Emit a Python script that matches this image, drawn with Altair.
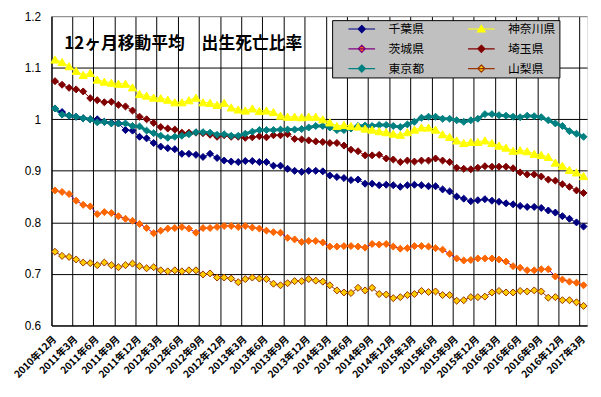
import altair as alt
import pandas as pd

# month labels (2010年12月 .. 2017年3月)
months = []
for yy in range(2010, 2018):
    for mm in range(1, 13):
        if (yy == 2010 and mm < 12) or (yy == 2017 and mm > 3):
            continue
        months.append(f"{yy}年{mm}月")
tick_months = months[::3]

series_names = ["千葉県", "神奈川県", "茨城県", "埼玉県", "東京都", "山梨県"]

chiba = [1.021, 1.014, 1.007, 1.005, 1.002, 1.000, 1.000, 0.995, 0.993, 0.992,
         0.979, 0.978, 0.966, 0.963, 0.954, 0.947, 0.944, 0.942, 0.933, 0.933,
         0.931, 0.927, 0.933, 0.925, 0.920, 0.918, 0.917, 0.919, 0.919, 0.917,
         0.917, 0.910, 0.910, 0.904, 0.900, 0.898,
         0.900, 0.900, 0.899, 0.891, 0.888, 0.886, 0.882, 0.883, 0.875, 0.875,
         0.872, 0.873, 0.872, 0.869, 0.872, 0.873, 0.872, 0.870, 0.870, 0.864,
         0.860, 0.850, 0.846, 0.841, 0.843, 0.845, 0.842, 0.840, 0.837, 0.835,
         0.832, 0.830, 0.830, 0.828, 0.823, 0.819, 0.812, 0.807, 0.800, 0.792]
kanagawa = [1.116, 1.111, 1.103, 1.094, 1.086, 1.090, 1.077, 1.073, 1.071, 1.069,
            1.069, 1.062, 1.049, 1.046, 1.042, 1.041, 1.038, 1.033, 1.033, 1.037,
            1.042, 1.033, 1.032, 1.028, 1.032, 1.023, 1.019, 1.017, 1.021, 1.016,
            1.017, 1.014, 1.007, 1.005, 1.005, 1.004,
            1.005, 1.005, 1.000, 0.994, 0.987, 0.989, 0.987, 0.986, 0.982, 0.980,
            0.977, 0.975, 0.972, 0.970, 0.975, 0.980, 0.984, 0.984, 0.980, 0.971,
            0.966, 0.959, 0.954, 0.956, 0.956, 0.959, 0.954, 0.949, 0.945, 0.939,
            0.940, 0.938, 0.933, 0.931, 0.927, 0.916, 0.910, 0.902, 0.897, 0.890]
ibaraki = [0.862, 0.859, 0.855, 0.842, 0.834, 0.831, 0.816, 0.820, 0.818, 0.812,
           0.807, 0.803, 0.797, 0.789, 0.779, 0.784, 0.788, 0.789, 0.791, 0.788,
           0.780, 0.789, 0.789, 0.791, 0.793, 0.793, 0.791, 0.793, 0.790, 0.788,
           0.784, 0.781, 0.780, 0.770, 0.767, 0.762,
           0.764, 0.764, 0.761, 0.753, 0.753, 0.754, 0.754, 0.753, 0.751, 0.758,
           0.757, 0.758, 0.753, 0.749, 0.750, 0.754, 0.754, 0.753, 0.750, 0.747,
           0.739, 0.730, 0.726, 0.727, 0.730, 0.730, 0.730, 0.728, 0.724, 0.715,
           0.712, 0.707, 0.707, 0.709, 0.709, 0.695, 0.689, 0.685, 0.683, 0.678]
saitama = [1.074, 1.067, 1.061, 1.058, 1.054, 1.041, 1.037, 1.033, 1.034, 1.028,
           1.025, 1.017, 1.005, 1.000, 0.993, 0.985, 0.982, 0.980, 0.974, 0.974,
           0.974, 0.973, 0.970, 0.966, 0.969, 0.966, 0.966, 0.964, 0.965, 0.967,
           0.965, 0.969, 0.969, 0.971, 0.962, 0.961,
           0.959, 0.957, 0.956, 0.954, 0.954, 0.949, 0.941, 0.938, 0.930, 0.930,
           0.931, 0.924, 0.922, 0.917, 0.920, 0.918, 0.920, 0.920, 0.924, 0.920,
           0.917, 0.906, 0.904, 0.903, 0.906, 0.909, 0.908, 0.908, 0.908, 0.905,
           0.897, 0.893, 0.893, 0.889, 0.883, 0.881, 0.874, 0.869, 0.862, 0.857]
tokyo = [1.021, 1.009, 1.007, 1.005, 1.002, 1.000, 0.994, 0.995, 0.992, 0.992,
         0.992, 0.987, 0.986, 0.978, 0.973, 0.968, 0.964, 0.966, 0.968, 0.971,
         0.975, 0.975, 0.974, 0.970, 0.971, 0.968, 0.968, 0.972, 0.976, 0.979,
         0.979, 0.979, 0.980, 0.980, 0.980, 0.981,
         0.984, 0.987, 0.987, 0.984, 0.979, 0.979, 0.982, 0.987, 0.988, 0.987,
         0.989, 0.989, 0.987, 0.985, 0.990, 0.995, 1.003, 1.005, 1.005, 1.001,
         1.001, 0.998, 0.995, 0.998, 1.001, 1.010, 1.010, 1.008, 1.007, 1.005,
         1.004, 1.007, 1.006, 1.004, 0.998, 0.992, 0.987, 0.977, 0.972, 0.966]
yamanashi = [0.743, 0.735, 0.733, 0.728, 0.722, 0.721, 0.717, 0.722, 0.717, 0.713,
             0.717, 0.720, 0.715, 0.711, 0.713, 0.707, 0.705, 0.707, 0.705, 0.707,
             0.707, 0.699, 0.701, 0.693, 0.693, 0.691, 0.684, 0.690, 0.693, 0.691,
             0.690, 0.681, 0.678, 0.682, 0.686, 0.686,
             0.690, 0.687, 0.685, 0.678, 0.668, 0.664, 0.663, 0.673, 0.668, 0.673,
             0.661, 0.660, 0.653, 0.655, 0.659, 0.661, 0.667, 0.665, 0.666, 0.659,
             0.659, 0.648, 0.649, 0.655, 0.655, 0.656, 0.664, 0.667, 0.664, 0.664,
             0.667, 0.666, 0.668, 0.666, 0.654, 0.655, 0.649, 0.649, 0.645, 0.638]

y_ticks = [0.6, 0.7, 0.8, 0.9, 1.0, 1.1, 1.2]

line_colors = ["#000080", "#FFFF00", "#800080", "#800000", "#008080", "#993300"]
marker_fill = ["#000080", "#FFFF00", "#FF6600", "#800000", "#008080", "#FFCC00"]
marker_stroke = ["#000080", "#FFFF00", "#FF6600", "#800000", "#008080", "#993300"]

diamond = "M-2.7,0H2.7M0,-0.72L0.72,0L0,0.72L-0.72,0Z"
triangle = "M-2.7,0H2.7M0,-0.75L0.8,0.6L-0.8,0.6Z"
legend_shapes = [diamond, triangle, diamond, diamond, diamond, diamond]

title_text = "12ヶ月移動平均　出生死亡比率"

rows = []
for name, vals in zip(series_names, [chiba, kanagawa, ibaraki, saitama, tokyo, yamanashi]):
    for i, (m, v) in enumerate(zip(months, vals)):
        rows.append({"month": m, "series": name, "value": v, "idx": i})
df = pd.DataFrame(rows)

FONT_JP = "Noto Sans CJK JP"

x_enc = alt.X(
    "month:N", sort=months,
    scale=alt.Scale(type="band", paddingInner=0, paddingOuter=0),
    axis=alt.Axis(values=tick_months, bandPosition=0, title=None, ticks=False, tickSize=0,
                  labelAngle=315, labelAlign="right", labelBaseline="middle",
                  labelPadding=12, labelFont=FONT_JP, labelFontSize=10,
                  labelFontWeight="bold", labelColor="black", labelOverlap=False,
                  domainColor="black", grid=True, gridColor="black", gridWidth=1),
)
y_enc = alt.Y(
    "value:Q",
    scale=alt.Scale(domain=[0.6, 1.2], nice=False, zero=False),
    axis=alt.Axis(values=y_ticks, format=".1~f", title=None, ticks=False, tickSize=0,
                  labelPadding=11, labelFont="Liberation Sans", labelFontSize=12,
                  labelColor="black", domainColor="black", grid=True,
                  gridColor=alt.condition("datum.value > 1.15", alt.value("#808080"), alt.value("black")),
                  gridWidth=1),
)

leg = alt.Legend(title=None, orient="none", legendX=284, legendY=4, columns=2,
                 direction="horizontal",
                 padding=3, symbolOffset=21, labelOffset=21, columnPadding=30,
                 rowPadding=8, fillColor="#C0C0C0", strokeColor="black",
                 labelFont=FONT_JP, labelFontSize=12, labelColor="black",
                 symbolSize=100, symbolStrokeWidth=1.2, symbolOpacity=1)

base = alt.Chart(df).encode(x=x_enc, y=y_enc)

lines = base.mark_line().encode(
    color=alt.Color("series:N", scale=alt.Scale(domain=series_names, range=line_colors), legend=leg),
    strokeWidth=alt.condition(alt.datum.series == "東京都", alt.value(3), alt.value(1)),
    order=alt.Order("idx:Q"),
)

fill_enc = alt.Fill("series:N", scale=alt.Scale(domain=series_names, range=marker_fill), legend=leg)
stroke_enc = alt.Stroke("series:N", scale=alt.Scale(domain=series_names, range=marker_stroke), legend=None)

diamonds = base.mark_point(filled=True, shape="diamond", size=50, strokeWidth=1, opacity=1).encode(
    fill=fill_enc, stroke=stroke_enc
).transform_filter(alt.datum.series != "神奈川県")

triangles = base.mark_point(filled=True, shape="triangle-up", size=70, strokeWidth=1, opacity=1).encode(
    fill=fill_enc, stroke=stroke_enc
).transform_filter(alt.datum.series == "神奈川県")

legend_layer = base.mark_point(filled=False, opacity=1).encode(
    color=alt.Color("series:N", scale=alt.Scale(domain=series_names, range=line_colors), legend=leg),
    fill=fill_enc,
    shape=alt.Shape("series:N", scale=alt.Scale(domain=series_names, range=legend_shapes), legend=leg),
).transform_filter("false")

chart = alt.layer(lines, diamonds, triangles, legend_layer).properties(
    width=542, height=313,
    autosize=alt.AutoSizeParams(type="none"),
    padding={"left": 44, "top": 6, "right": 6, "bottom": 62},
    title=alt.TitleParams(title_text, anchor="start", frame="group", dx=13, dy=51, offset=0,
                          baseline="middle", font=FONT_JP, fontSize=17, fontWeight="bold",
                          color="black"),
).configure_view(
    fill="#C0C0C0", stroke="#808080", strokeWidth=1
).configure(background="white")

chart.save("out.html", embed_options={"renderer": "svg", "actions": False})
